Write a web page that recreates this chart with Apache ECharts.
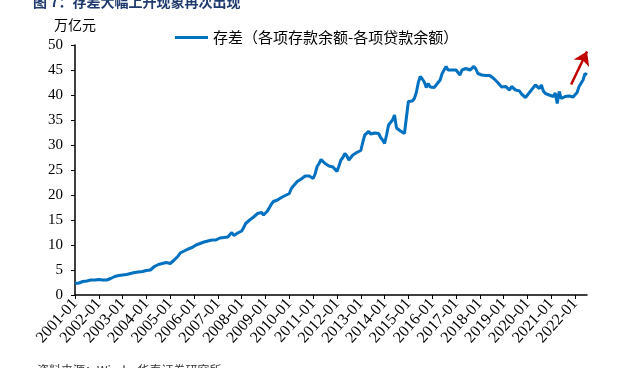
<!DOCTYPE html>
<html>
<head>
<meta charset="utf-8">
<script src="https://cdn.jsdelivr.net/npm/echarts@6/dist/echarts.min.js"></script>
<style>
  html, body { margin: 0; padding: 0; background: #fff; }
  #chart { width: 627px; height: 368px; }
</style>
</head>
<body>
<div id="chart"></div>
<script>
// 存差 = 各项存款余额 - 各项贷款余额，单位：万亿元，月度
const startYear = 2001;
const endYear = 2022;
const endMonth = 7;

const y2001 = [2.3, 2.5, 2.4, 2.6, 2.7, 2.6, 2.8, 2.9, 3.0, 2.9, 3.0, 3.1];
const y2002 = [3.1, 3.0, 3.0, 3.1, 3.0, 3.2, 3.3, 3.5, 3.7, 3.8, 3.9, 4.0];
const y2003 = [4.0, 4.0, 4.1, 4.2, 4.3, 4.5, 4.5, 4.6, 4.6, 4.7, 4.7, 4.8];
const y2004 = [4.9, 5.1, 5.0, 5.3, 5.7, 6.0, 6.1, 6.2, 6.3, 6.4, 6.5, 6.4];
const y2005 = [6.3, 6.6, 7.0, 7.3, 7.8, 8.4, 8.6, 8.8, 9.0, 9.2, 9.3, 9.5];
const y2006 = [9.8, 10.0, 10.2, 10.3, 10.5, 10.6, 10.7, 10.8, 10.9, 11.0, 11.1, 11.0];
const y2007 = [11.2, 11.4, 11.3, 11.5, 11.7, 11.6, 11.9, 12.5, 11.9, 12.2, 12.4, 12.7];
const y2008 = [12.8, 13.5, 14.3, 14.6, 15.0, 15.3, 15.6, 16.0, 16.3, 16.6, 16.5, 16.0];
const y2009 = [16.1, 16.8, 17.5, 18.2, 18.7, 18.9, 19.0, 19.3, 19.5, 19.7, 19.9, 20.0];
const y2010 = [20.3, 21.3, 21.8, 22.2, 22.7, 22.9, 23.2, 23.6, 23.8, 24.0, 23.8, 23.5];
const y2011 = [23.3, 24.2, 25.7, 26.3, 27.1, 26.8, 26.3, 26.1, 25.8, 26.0, 25.6, 25.8];
const y2012 = [24.7, 25.8, 27.0, 27.5, 28.3, 27.8, 27.0, 27.4, 28.0, 28.2, 28.5, 28.9];
const y2013 = [28.9, 30.5, 32.0, 32.4, 32.7, 32.2, 32.0, 32.4, 32.1, 32.3, 31.5, 31.0];
const y2014 = [30.3, 32.0, 34.0, 34.5, 35.0, 36.0, 33.4, 33.0, 32.8, 32.5, 32.3, 32.3];
const y2015 = [38.7, 38.4, 38.8, 39.3, 40.5, 42.5, 43.7, 43.2, 42.6, 41.5, 42.3, 41.6];
const y2016 = [41.3, 41.5, 42.0, 42.3, 43.0, 44.3, 45.0, 45.7, 45.0, 44.7, 45.0, 45.1];
const y2017 = [45.0, 44.6, 44.0, 45.0, 45.0, 45.3, 45.0, 45.0, 45.0, 45.7, 45.2, 44.3];
const y2018 = [44.3, 44.0, 44.3, 43.9, 43.7, 43.9, 43.5, 43.3, 43.0, 42.5, 42.2, 41.6];
const y2019 = [41.3, 41.7, 41.8, 41.0, 41.7, 41.5, 41.0, 40.7, 40.8, 40.2, 39.8, 39.5];
const y2020 = [39.6, 40.5, 40.8, 41.5, 42.0, 41.6, 41.3, 42.0, 40.8, 40.3, 40.5, 40.0];
const y2021 = [40.1, 39.7, 40.4, 38.3, 40.7, 39.3, 39.5, 39.7, 39.6, 39.8, 39.7, 39.6];
const y2022 = [39.7, 40.5, 41.7, 42.0, 43.0, 44.3, 44.0];

const values = [].concat(
  y2001, y2002, y2003, y2004, y2005, y2006, y2007, y2008, y2009, y2010, y2011,
  y2012, y2013, y2014, y2015, y2016, y2017, y2018, y2019, y2020, y2021, y2022
);

const months = [];
for (let y = startYear; y <= endYear; y++) {
  for (let m = 1; m <= 12; m++) {
    if (y === endYear && m > endMonth) break;
    months.push(y + '-' + (m < 10 ? '0' + m : m));
  }
}

// 红色箭头（起点、终点）
const arrowFrom = ['2021-11', 42.1];
const arrowTo = ['2022-07', 48.7];

const serif = '"Liberation Serif", "Times New Roman", serif';
const cjk = '"Noto Sans CJK SC", sans-serif';

const chart = echarts.init(document.getElementById('chart'));
chart.setOption({
  animation: false,
  title: [
    {
      text: '图 7：存差大幅上升现象再次出现',
      left: 28,
      top: -10,
      textStyle: { fontFamily: cjk, fontSize: 14, fontWeight: 'bold', color: '#1f3a6e' }
    },
    {
      text: '资料来源：Wind，华泰证券研究所',
      left: 32,
      top: 359,
      textStyle: { fontFamily: cjk, fontSize: 12, fontWeight: 'normal', color: '#333' }
    }
  ],
  legend: {
    left: 170,
    top: 25,
    icon: 'rect',
    itemWidth: 33,
    itemHeight: 3,
    itemGap: 4,
    textStyle: { fontFamily: cjk, fontSize: 15, color: '#000' },
    data: ['存差（各项存款余额-各项贷款余额）']
  },
  grid: { left: 75, right: 40, top: 45, bottom: 73 },
  xAxis: {
    type: 'category',
    data: months,
    boundaryGap: false,
    axisLine: { lineStyle: { color: '#000', width: 1.5 } },
    axisTick: { interval: 11, length: 4, lineStyle: { color: '#000' } },
    axisLabel: {
      interval: 11,
      rotate: 48,
      margin: 6,
      fontFamily: serif,
      fontSize: 16,
      color: '#000'
    },
    splitLine: { show: false }
  },
  yAxis: {
    type: 'value',
    min: 0,
    max: 50,
    interval: 5,
    name: '万亿元',
    nameLocation: 'end',
    nameGap: 13,
    nameTextStyle: { fontFamily: cjk, fontSize: 14, color: '#000' },
    axisLine: { show: true, lineStyle: { color: '#000', width: 1.5 } },
    axisTick: { show: true, length: 4, lineStyle: { color: '#000' } },
    axisLabel: { fontFamily: serif, fontSize: 15, color: '#000', margin: 12 },
    splitLine: { show: false }
  },
  series: [
    {
      name: '存差（各项存款余额-各项贷款余额）',
      type: 'line',
      data: values,
      showSymbol: false,
      color: '#0070C0',
      lineStyle: { width: 3, color: '#0070C0' },
      markLine: {
        silent: true,
        symbol: ['none', 'arrow'],
        symbolSize: 13,
        label: { show: false },
        lineStyle: { color: '#C00000', width: 2.5, type: 'solid' },
        data: [[{ coord: arrowFrom }, { coord: arrowTo }]]
      }
    }
  ]
});
</script>
</body>
</html>
